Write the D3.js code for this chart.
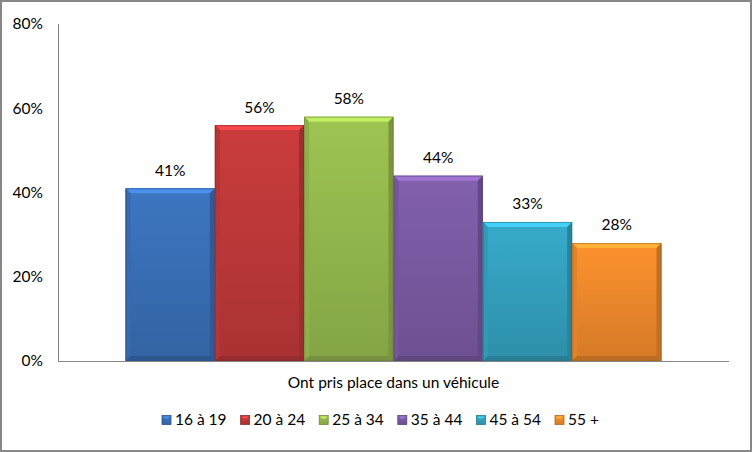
<!DOCTYPE html>
<html>
<head>
<meta charset="utf-8">
<style>
  body { margin: 0; background: #fff; }
  svg text { font-family: Lato, "Open Sans", sans-serif; fill: #000; }
</style>
</head>
<body>
<svg id="chart" width="752" height="452"></svg>
<script src="https://cdnjs.cloudflare.com/ajax/libs/d3/7.8.5/d3.min.js"></script>
<script>
  // data
  const categories = ["Ont pris place dans un véhicule"];
  const series = ["16 à 19", "20 à 24", "25 à 34", "35 à 44", "45 à 54", "55 +"];
  const values = [41, 56, 58, 44, 33, 28];
  const yTicks = [0, 20, 40, 60, 80];
  const colors = ["#3a70b8", "#c0393a", "#96ba4e", "#7b5ba4", "#34a2c0", "#f08a2c"];

  const WIDTH = 752, HEIGHT = 452;
  const plot = { left: 58, right: 729, top: 24, bottom: 361 };
  const fontSize = "15.5px";

  const svg = d3.select("#chart");

  // outer frame
  svg.append("rect")
      .attr("x", 1).attr("y", 1)
      .attr("width", WIDTH - 2).attr("height", HEIGHT - 2)
      .attr("fill", "#fff")
      .attr("stroke", "#878787")
      .attr("stroke-width", 2);

  const y = d3.scaleLinear().domain([0, 80]).range([plot.bottom, plot.top]);

  const x0 = d3.scaleBand()
      .domain(categories)
      .range([plot.left, plot.right])
      .paddingInner(0)
      .paddingOuter(0.126);

  const x1 = d3.scaleBand()
      .domain(series)
      .range([0, x0.bandwidth()]);

  // gradients, one per series
  const defs = svg.append("defs");
  colors.forEach((c, i) => {
    const g = defs.append("linearGradient")
        .attr("id", "grad" + i)
        .attr("x1", 0).attr("y1", 0).attr("x2", 0).attr("y2", 1);
    g.append("stop").attr("offset", "0%").attr("stop-color", d3.color(c).brighter(0.15));
    g.append("stop").attr("offset", "100%").attr("stop-color", d3.color(c).darker(0.35));
  });

  // y axis labels (no tick marks)
  svg.append("g")
    .selectAll("text")
    .data(yTicks)
    .join("text")
      .attr("x", 43)
      .attr("y", d => y(d))
      .attr("dy", "0.35em")
      .attr("text-anchor", "end")
      .style("font-size", fontSize)
      .text(d => d + "%");

  svg.append("line")
      .attr("x1", plot.left + 0.5).attr("x2", plot.left + 0.5)
      .attr("y1", plot.top).attr("y2", plot.bottom)
      .attr("stroke", "#868686");

  // bars
  const bars = svg.append("g")
    .selectAll("g")
    .data(series.map((s, i) => ({ s, v: values[i], i })))
    .join("g")
      .attr("transform", d => `translate(${x0(categories[0]) + x1(d.s)},0)`);

  const bw = x1.bandwidth();
  const bev = 5;

  bars.append("rect")
      .attr("x", 0)
      .attr("y", d => y(d.v))
      .attr("width", bw)
      .attr("height", d => y(0) - y(d.v))
      .attr("fill", d => `url(#grad${d.i})`);

  // bevel: top highlight
  bars.append("path")
      .attr("d", d => {
        const t = y(d.v);
        return `M0,${t}H${bw}L${bw - bev},${t + bev}H${bev}Z`;
      })
      .attr("fill", d => d3.color(colors[d.i]).brighter(0.7));
  // bevel: sides
  bars.append("path")
      .attr("d", d => {
        const t = y(d.v), b = y(0);
        return `M0,${t}L${bev},${t + bev}V${b - bev}L0,${b}Z`;
      })
      .attr("fill", d => d3.color(colors[d.i]).darker(0.15));
  bars.append("path")
      .attr("d", d => {
        const t = y(d.v), b = y(0);
        return `M${bw},${t}L${bw - bev},${t + bev}V${b - bev}L${bw},${b}Z`;
      })
      .attr("fill", d => d3.color(colors[d.i]).darker(0.6));
  bars.append("path")
      .attr("d", d => {
        const b = y(0);
        return `M0,${b}L${bev},${b - bev}H${bw - bev}L${bw},${b}Z`;
      })
      .attr("fill", d => d3.color(colors[d.i]).darker(0.7));
  bars.append("rect")
      .attr("x", 0.5)
      .attr("y", d => y(d.v) + 0.5)
      .attr("width", bw - 1)
      .attr("height", d => y(0) - y(d.v) - 1)
      .attr("fill", "none")
      .attr("stroke", d => d3.color(colors[d.i]).darker(1))
      .attr("stroke-opacity", 0.6);

  // value labels
  bars.append("text")
      .attr("x", bw / 2)
      .attr("y", d => y(d.v) - 18)
      .attr("dy", "0.35em")
      .attr("text-anchor", "middle")
      .style("font-size", fontSize)
      .text(d => d.v + "%");

  // x axis
  svg.append("line")
      .attr("x1", plot.left).attr("x2", plot.right)
      .attr("y1", plot.bottom + 0.5).attr("y2", plot.bottom + 0.5)
      .attr("stroke", "#868686");

  svg.append("g")
    .selectAll("text")
    .data(categories)
    .join("text")
      .attr("x", d => x0(d) + x0.bandwidth() / 2)
      .attr("y", 383)
      .attr("dy", "0.35em")
      .attr("text-anchor", "middle")
      .style("font-size", fontSize)
      .text(d => d);

  // legend
  const lx = d3.scalePoint().domain(series).range([162, 555]);
  const legend = svg.append("g")
    .selectAll("g")
    .data(series.map((s, i) => ({ s, i })))
    .join("g")
      .attr("transform", d => `translate(${lx(d.s)},420)`);

  legend.append("rect")
      .attr("x", 0).attr("y", -4.5)
      .attr("width", 9).attr("height", 9)
      .attr("fill", d => `url(#grad${d.i})`)
      .attr("stroke", d => d3.color(colors[d.i]).darker(0.8))
      .attr("stroke-width", 0.8);
  legend.append("path")
      .attr("d", "M1,-3.5H8L6,-1.5H3Z")
      .attr("fill", d => d3.color(colors[d.i]).brighter(0.8));

  legend.append("text")
      .attr("x", 13)
      .attr("y", 0)
      .attr("dy", "0.35em")
      .style("font-size", fontSize)
      .text(d => d.s);
</script>
</body>
</html>
